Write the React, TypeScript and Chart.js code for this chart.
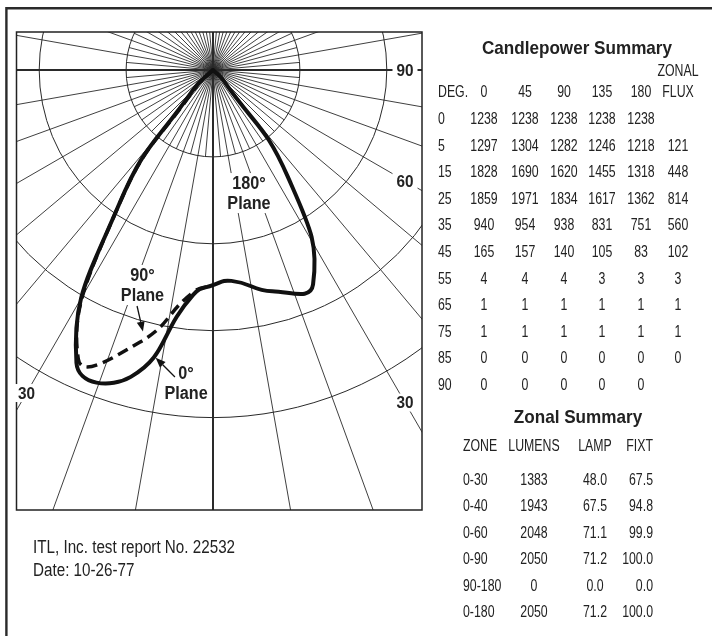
import React, { useEffect, useRef } from "react";
import { Chart, registerables } from "chart.js";

Chart.register(...registerables);

// ---------------- data ----------------
const DEGREES = [0, 5, 15, 25, 35, 45, 55, 65, 75, 85, 90];
const PLANE_HEADERS = ["0", "45", "90", "135", "180"];
const CP_0 = [1238, 1297, 1828, 1859, 940, 165, 4, 1, 1, 0, 0];
const CP_45 = [1238, 1304, 1690, 1971, 954, 157, 4, 1, 1, 0, 0];
const CP_90 = [1238, 1282, 1620, 1834, 938, 140, 4, 1, 1, 0, 0];
const CP_135 = [1238, 1246, 1455, 1617, 831, 105, 3, 1, 1, 0, 0];
const CP_180 = [1238, 1218, 1318, 1362, 751, 83, 3, 1, 1, 0, 0];
const ZONAL_FLUX = ["", "121", "448", "814", "560", "102", "3", "1", "1", "0", ""];

const ZONES = ["0-30", "0-40", "0-60", "0-90", "90-180", "0-180"];
const ZONE_LUMENS = ["1383", "1943", "2048", "2050", "0", "2050"];
const ZONE_LAMP = ["48.0", "67.5", "71.1", "71.2", "0.0", "71.2"];
const ZONE_FIXT = ["67.5", "94.8", "99.9", "100.0", "0.0", "100.0"];

const RING_CD = [500, 1000, 1500, 2000];
const ANGLE_TICKS = [
  { deg: 90, side: 1, text: "90" },
  { deg: 60, side: 1, text: "60" },
  { deg: 30, side: 1, text: "30" },
  { deg: 30, side: -1, text: "30" },
];
// annotation anchors in candela units (x: horizontal, y: vertical)
const PLANE_LABELS = [
  { lines: ["180°", "Plane"], x: 207, y: -708 },
  { lines: ["90°", "Plane"], x: -406, y: -1237 },
  { lines: ["0°", "Plane"], x: -155, y: -1801 },
];
const ARROWS = [
  { from: [-437, -1358], to: [-403, -1505] },
  { from: [-219, -1766], to: [-330, -1655] },
];

const toXY = (cd: number, deg: number, side: number) => {
  const r = (deg * Math.PI) / 180;
  return { x: side * cd * Math.sin(r), y: -cd * Math.cos(r) };
};

const FONT = "'Liberation Sans', Arial, sans-serif";
const BOLD_SX = 0.9;
const REG_SX = 0.77;

function drawScaledText(ctx: any, s: string, x: number, y: number, sx: number) {
  ctx.save();
  ctx.translate(x, y);
  ctx.scale(sx, 1);
  ctx.fillText(s, 0, 0);
  ctx.restore();
}

const polarPlugin = {
  id: "polarPlugin",
  beforeDatasetsDraw(chart: any) {
    const { ctx, chartArea: a, scales } = chart;
    const cx = scales.x.getPixelForValue(0);
    const cy = scales.y.getPixelForValue(0);
    const ppk = scales.x.getPixelForValue(1000) - cx;
    ctx.save();
    ctx.beginPath();
    ctx.rect(a.left, a.top, a.right - a.left, a.bottom - a.top);
    ctx.clip();
    ctx.strokeStyle = "#2a2a2a";
    ctx.lineWidth = 1;
    RING_CD.forEach((cd) => {
      ctx.beginPath();
      ctx.arc(cx, cy, (cd * ppk) / 1000, 0, Math.PI * 2);
      ctx.stroke();
    });
    for (let d = 0; d < 360; d += 5) {
      const rad = (d * Math.PI) / 180;
      const len = d % 10 === 0 ? 2000 : (RING_CD[0] * ppk) / 1000;
      ctx.lineWidth = d % 90 === 0 ? 2 : 0.9;
      ctx.beginPath();
      ctx.moveTo(cx, cy);
      ctx.lineTo(cx + Math.sin(rad) * len, cy + Math.cos(rad) * len);
      ctx.stroke();
    }
    ctx.restore();
    ctx.save();
    ctx.strokeStyle = "#222";
    ctx.lineWidth = 1.5;
    ctx.strokeRect(a.left, a.top, a.right - a.left, a.bottom - a.top);
    ctx.restore();
  },
  afterDatasetsDraw(chart: any) {
    const { ctx, chartArea: a, scales } = chart;
    const px = (x: number) => scales.x.getPixelForValue(x);
    const py = (y: number) => scales.y.getPixelForValue(y);
    const cx = px(0);
    const cy = py(0);
    ctx.save();
    ctx.textAlign = "center";
    ctx.textBaseline = "middle";
    // angle tick labels
    ctx.font = `bold 17px ${FONT}`;
    ANGLE_TICKS.forEach((t) => {
      const rad = (t.deg * Math.PI) / 180;
      const tx = t.side > 0 ? a.right - 17 : a.left + 10;
      const dist = Math.abs(tx - cx) / Math.sin(rad);
      const ty = cy + dist * Math.cos(rad);
      const w = ctx.measureText(t.text).width * BOLD_SX;
      ctx.fillStyle = "#fff";
      ctx.fillRect(tx - w / 2 - 4, ty - 9, w + 8, 18);
      ctx.fillStyle = "#222";
      drawScaledText(ctx, t.text, tx, ty + 1, BOLD_SX);
    });
    // plane labels
    ctx.font = `bold 18px ${FONT}`;
    PLANE_LABELS.forEach((l) => {
      const lx = px(l.x);
      const ly = py(l.y);
      l.lines.forEach((s, i) => {
        const w = ctx.measureText(s).width * BOLD_SX;
        const yy = ly - 10 + i * 20;
        ctx.fillStyle = "#fff";
        ctx.fillRect(lx - w / 2 - 3, yy - 10, w + 6, 20);
      });
      ctx.fillStyle = "#222";
      l.lines.forEach((s, i) => drawScaledText(ctx, s, lx, ly - 10 + i * 20 + 1, BOLD_SX));
    });
    // arrows
    ctx.strokeStyle = "#111";
    ctx.fillStyle = "#111";
    ctx.lineWidth = 1.3;
    ARROWS.forEach((ar) => {
      const x1 = px(ar.from[0]), y1 = py(ar.from[1]);
      const x2 = px(ar.to[0]), y2 = py(ar.to[1]);
      const ang = Math.atan2(y2 - y1, x2 - x1);
      const hl = 10, hw = 4;
      const bx = x2 - Math.cos(ang) * hl, by = y2 - Math.sin(ang) * hl;
      ctx.beginPath();
      ctx.moveTo(x1, y1);
      ctx.lineTo(bx, by);
      ctx.stroke();
      ctx.beginPath();
      ctx.moveTo(x2, y2);
      ctx.lineTo(bx - Math.sin(ang) * hw, by + Math.cos(ang) * hw);
      ctx.lineTo(bx + Math.sin(ang) * hw, by - Math.cos(ang) * hw);
      ctx.closePath();
      ctx.fill();
    });
    ctx.restore();
  },
  afterDraw(chart: any) {
    const { ctx } = chart;
    ctx.save();
    ctx.strokeStyle = "#2a2a2a";
    ctx.lineWidth = 2.4;
    ctx.beginPath();
    ctx.moveTo(6.4, 7);
    ctx.lineTo(6.4, 636);
    ctx.moveTo(5.2, 8.3);
    ctx.lineTo(712, 8.3);
    ctx.stroke();
    ctx.restore();
  },
};

type TxtProps = {
  x: number;
  y: number;
  align?: "left" | "center" | "right";
  bold?: boolean;
  size?: number;
  sx?: number;
  children: React.ReactNode;
};
const Txt = ({ x, y, align = "center", bold = false, size = 16, sx, children }: TxtProps) => {
  const tx = align === "left" ? "0" : align === "center" ? "-50%" : "-100%";
  const scale = sx ?? (bold ? BOLD_SX : REG_SX);
  return (
    <div
      style={{
        position: "absolute",
        left: x,
        top: y,
        transform: `translate(${tx}, -50%) scaleX(${scale})`,
        transformOrigin: `${align} center`,
        whiteSpace: "nowrap",
        lineHeight: 1,
        fontFamily: FONT,
        fontWeight: bold ? 700 : 400,
        fontSize: size,
        color: "#222",
      }}
    >
      {children}
    </div>
  );
};

const COL_X = [483.5, 524.5, 563.5, 601.5, 641];
const FLUX_X = 677.5;
const ROW_Y0 = 119;
const ROW_DY = 26.6;
const Z_ROW_Y0 = 479.5;
const Z_ROW_DY = 26.5;

export default function App() {
  const canvasRef = useRef<HTMLCanvasElement | null>(null);

  useEffect(() => {
    const solid = [
      ...DEGREES.map((d, i) => toXY(CP_0[i], d, -1)).reverse(),
      ...DEGREES.slice(1).map((d, i) => toXY(CP_180[i + 1], d, 1)),
    ];
    const dashed = DEGREES.map((d, i) => toXY(CP_90[i], d, -1)).reverse();
    const k = 500 / 86.9; // candela per pixel
    const chart = new Chart(canvasRef.current as HTMLCanvasElement, {
      type: "scatter",
      data: {
        datasets: [
          {
            label: "0° / 180° Plane",
            data: solid,
            showLine: true,
            borderColor: "#111",
            borderWidth: 4,
            pointRadius: 0,
            tension: 0.5,
            borderCapStyle: "round",
            borderJoinStyle: "round",
          } as any,
          {
            label: "90° Plane",
            data: dashed,
            showLine: true,
            borderColor: "#111",
            borderWidth: 3.5,
            borderDash: [11, 6],
            pointRadius: 0,
            tension: 0.5,
          } as any,
        ],
      },
      options: {
        animation: false,
        responsive: false,
        devicePixelRatio: 1,
        layout: { padding: { left: 16.5, top: 32, right: 290, bottom: 126 } },
        scales: {
          x: { type: "linear", min: -196.5 * k, max: 209 * k, display: false },
          y: { type: "linear", min: -440 * k, max: 38 * k, display: false },
        },
        plugins: { legend: { display: false }, tooltip: { enabled: false } },
      },
      plugins: [polarPlugin as any],
    });
    return () => chart.destroy();
  }, []);

  return (
    <div style={{ position: "absolute", left: 0, top: 0, width: 712, height: 636, background: "#fff", overflow: "hidden" }}>
      <canvas ref={canvasRef} width={712} height={636} style={{ position: "absolute", left: 0, top: 0, width: 712, height: 636 }} />

      <Txt x={577} y={47} bold size={19}>Candlepower Summary</Txt>
      <Txt x={FLUX_X} y={71}>ZONAL</Txt>
      <Txt x={438} y={92} align="left">DEG.</Txt>
      {PLANE_HEADERS.map((h, i) => (
        <Txt key={"h" + i} x={COL_X[i]} y={92}>{h}</Txt>
      ))}
      <Txt x={FLUX_X} y={92}>FLUX</Txt>
      {DEGREES.map((d, r) => {
        const y = ROW_Y0 + r * ROW_DY;
        const vals = [CP_0[r], CP_45[r], CP_90[r], CP_135[r], CP_180[r]];
        return (
          <React.Fragment key={"r" + r}>
            <Txt x={438} y={y} align="left">{d}</Txt>
            {vals.map((v, c) => (
              <Txt key={c} x={COL_X[c]} y={y}>{v}</Txt>
            ))}
            {ZONAL_FLUX[r] !== "" && <Txt x={FLUX_X} y={y}>{ZONAL_FLUX[r]}</Txt>}
          </React.Fragment>
        );
      })}

      <Txt x={577.5} y={416} bold size={19}>Zonal Summary</Txt>
      <Txt x={463} y={446} align="left">ZONE</Txt>
      <Txt x={533.5} y={446}>LUMENS</Txt>
      <Txt x={595} y={446}>LAMP</Txt>
      <Txt x={653} y={446} align="right">FIXT</Txt>
      {ZONES.map((z, r) => {
        const y = Z_ROW_Y0 + r * Z_ROW_DY;
        return (
          <React.Fragment key={"z" + r}>
            <Txt x={463} y={y} align="left">{z}</Txt>
            <Txt x={533.5} y={y}>{ZONE_LUMENS[r]}</Txt>
            <Txt x={595} y={y}>{ZONE_LAMP[r]}</Txt>
            <Txt x={653} y={y} align="right">{ZONE_FIXT[r]}</Txt>
          </React.Fragment>
        );
      })}

      <Txt x={33} y={547} align="left" size={18} sx={0.845}>ITL, Inc. test report No. 22532</Txt>
      <Txt x={33} y={570} align="left" size={18} sx={0.845}>Date: 10-26-77</Txt>
    </div>
  );
}
